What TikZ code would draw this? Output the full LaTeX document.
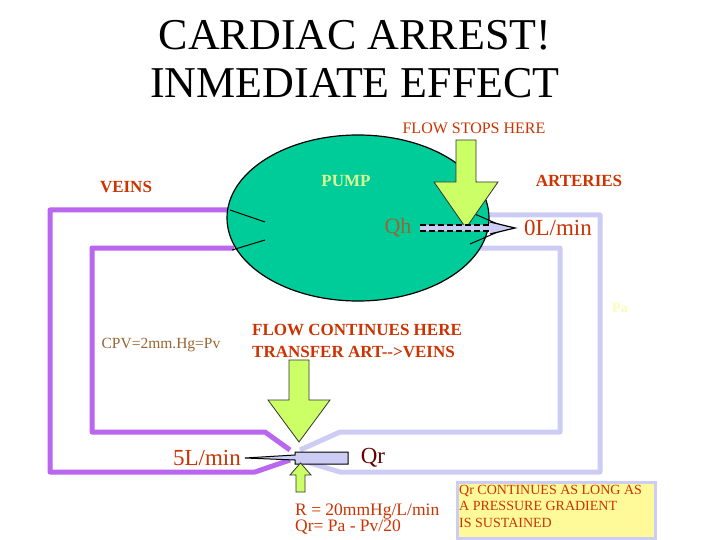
\documentclass[tikz,border=0pt]{standalone}
\usepackage{fontspec}
\setmainfont{Liberation Serif}
\usetikzlibrary{shapes.geometric}
\begin{document}
\begin{tikzpicture}[x=1pt,y=-1pt,
  vein/.style={draw=veinc,line width=5pt,line join=round},
  art/.style={draw=artc,line width=5pt,line join=round},
  lab/.style={text=labc,inner sep=0pt},
  garrow/.style={draw=black!80,fill=greenc,line width=0.8pt,line join=miter}]
\definecolor{veinc}{HTML}{BB66EE}
\definecolor{artc}{HTML}{CCCCF5}
\definecolor{labc}{HTML}{CC3300}
\definecolor{pumpc}{HTML}{00CC99}
\definecolor{greenc}{HTML}{CCFF66}
\definecolor{qhc}{HTML}{996633}
\definecolor{qrc}{HTML}{660000}
\useasboundingbox (0,0) rectangle (720,540);
\fill[white] (0,0) rectangle (720,540);
% vessels
\draw[vein] (232,210) -- (50,210) -- (50,472) -- (255,472) -- (290,460);
\draw[vein] (234,248) -- (92,248) -- (92,432) -- (265,432) -- (290,450);
\draw[art] (468,215) -- (600,215) -- (600,472) -- (340,472) -- (300,460);
\draw[art] (466,248) -- (560,248) -- (560,432) -- (340,432) -- (300,450);
% pump
\node[ellipse,draw=black,line width=1.2pt,fill=pumpc,minimum width=262pt,minimum height=166pt,inner sep=0pt] (pump) at (358,218) {};
\draw[line width=1pt] (230,210) -- (265,222);
\draw[line width=1pt] (232,250) -- (265,240);
\draw[line width=1pt] (470,212) -- (500,225);
\draw[line width=1pt] (470,244) -- (500,231);
% green arrow top
\draw[garrow] (456,140) -- (476,140) -- (476,182) -- (498,182) -- (466,228) -- (434,182) -- (456,182) -- cycle;
% Qh arrow
\node[lab,text=qhc,font=\fontsize{22}{24}\selectfont] (qh) at (398,228) {Qh};
\node[lab,font=\fontsize{23}{24}\selectfont] (zero) at (558,228) {0L/min};
\fill[artc] (420,225) -- (490,225) -- (490,222) -- (515,228) -- (490,234) -- (490,231) -- (420,231) -- cycle;
\draw[line width=1.2pt,dash pattern=on 6pt off 3pt] (420,225) -- (490,225);
\draw[line width=1.2pt,dash pattern=on 6pt off 3pt] (420,231) -- (490,231);
\draw[line width=1.2pt] (490,222) -- (515,228) -- (490,234);
% bottom arrows
\draw[garrow] (289,360) -- (309,360) -- (309,400) -- (330,400) -- (299,442) -- (268,400) -- (289,400) -- cycle;
\node[lab,text=qrc,font=\fontsize{23}{24}\selectfont] (qr) at (373,458) {Qr};
\node[lab,font=\fontsize{23}{24}\selectfont] (five) at (207,458) {5L/min};
\draw[fill=artc,line width=1pt] (348,452) -- (348,464) -- (295,464) -- (295,460) -- (245,458) -- (295,455) -- (295,452) -- cycle;
\draw[garrow] (296,492) -- (305,492) -- (305,475) -- (311,475) -- (300.5,463) -- (290,475) -- (296,475) -- cycle;
% texts
\node[inner sep=0pt,font=\fontsize{44}{48}\selectfont] (t1) at (355,35) {CARDIAC ARREST!};
\node[inner sep=0pt,font=\fontsize{44}{48}\selectfont] (t2) at (355,83) {INMEDIATE EFFECT};
\node[lab,font=\fontsize{16}{18}\selectfont] (fs) at (474,128) {FLOW STOPS HERE};
\node[lab,text=greenc!70!white,font=\bfseries\fontsize{17}{18}\selectfont] (pl) at (346,181) {PUMP};
\node[lab,font=\bfseries\fontsize{17}{18}\selectfont] (arl) at (579,181) {ARTERIES};
\node[lab,font=\bfseries\fontsize{17}{18}\selectfont] (vl) at (126,187) {VEINS};
\node[lab,text=qhc,font=\fontsize{15.5}{16}\selectfont] (cpv) at (161,345) {CPV=2mm.Hg=Pv};
\node[lab,anchor=west,align=left,font=\bfseries\fontsize{17}{22}\selectfont] (fc) at (252,341) {FLOW CONTINUES HERE\\TRANSFER ART-{}-{}>VEINS};
\node[lab,anchor=west,align=left,font=\fontsize{17.5}{15.5}\selectfont] (rr) at (295,519) {R = 20mmHg/L/min\\Qr= Pa - Pv/20};
\node[lab,text=yellow!30!white,font=\bfseries\fontsize{14}{14}\selectfont] (pa) at (620,308) {Pa};
\node[draw=artc,line width=3pt,fill=yellow!40!white,anchor=north west,minimum width=198pt,minimum height=56pt,inner sep=0pt] (box) at (456,481) {};
\node[lab,anchor=north west,align=left,font=\fontsize{14}{16.5}\selectfont] (boxt) at (459,485) {Qr CONTINUES AS LONG AS\\A PRESSURE GRADIENT\\IS SUSTAINED};
\end{tikzpicture}
\end{document}
